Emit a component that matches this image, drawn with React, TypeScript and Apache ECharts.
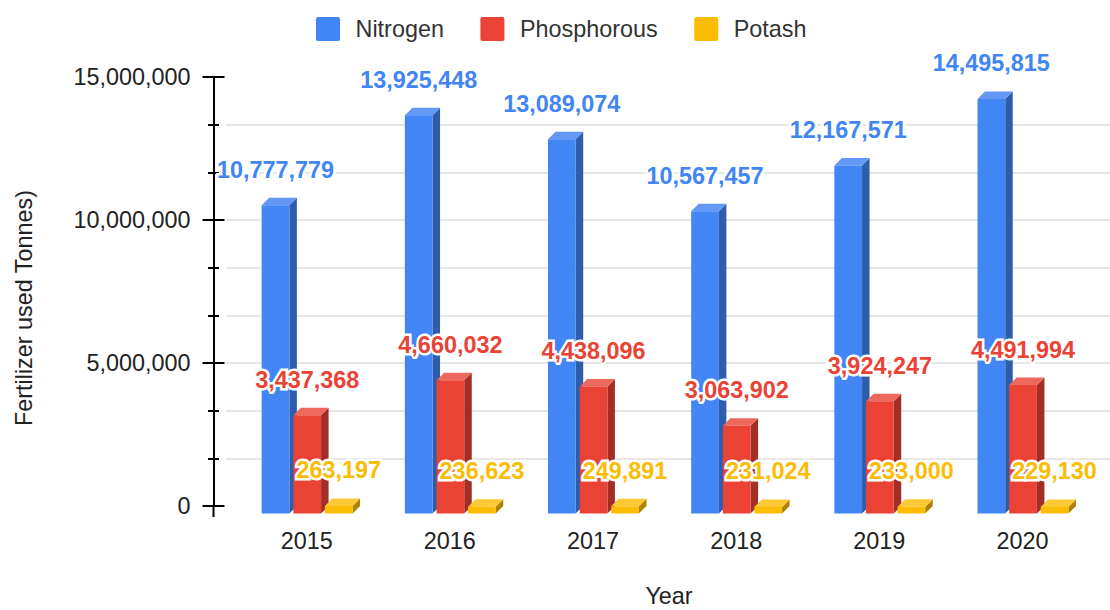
import React, { useEffect, useRef } from "react";
import * as echarts from "echarts";

const categories = ["2015", "2016", "2017", "2018", "2019", "2020"];
const nitrogen = [10777779, 13925448, 13089074, 10567457, 12167571, 14495815];
const phosphorous = [3437368, 4660032, 4438096, 3063902, 3924247, 4491994];
const potash = [263197, 236623, 249891, 231024, 233000, 229130];

const FONT = '"Liberation Sans", Arial, sans-serif';
const TEXT = "#222222";
const BAR_W = 27.7;
const DEPTH = 7.5;
const FS = 23.4;

function bar3d(name: string, values: number[], offset: number, front: string, side: string, top: string) {
  return {
    type: "custom",
    name,
    xAxisIndex: 0,
    yAxisIndex: 0,
    clip: false,
    silent: true,
    itemStyle: { color: front },
    encode: { x: 0, y: 1 },
    data: values.map((v, i) => [i, v]),
    renderItem: (_p: any, api: any) => {
      const i = api.value(0);
      const v = api.value(1);
      const [cx, backTop] = api.coord([i, v]);
      const base = api.coord([i, 0])[1];
      const l = cx + offset;
      const r = l + BAR_W;
      const t = backTop + DEPTH;
      const b = base + DEPTH;
      return {
        type: "group",
        children: [
          { type: "polygon", shape: { points: [[r, t], [r + DEPTH, backTop], [r + DEPTH, base], [r, b]] }, style: { fill: side } },
          { type: "polygon", shape: { points: [[l, t], [l + DEPTH, backTop], [r + DEPTH, backTop], [r, t]] }, style: { fill: top } },
          { type: "rect", shape: { x: l, y: t, width: BAR_W, height: b - t }, style: { fill: front } },
          {
            type: "text",
            z2: 100,
            style: {
              x: l + BAR_W / 2,
              y: t - 35.5,
              text: Number(v).toLocaleString("en-US"),
              align: "center",
              verticalAlign: "middle",
              font: `bold ${FS}px ${FONT}`,
              fill: front,
              stroke: "#ffffff",
              lineWidth: 5,
            },
          },
        ],
      };
    },
  };
}

export default function App() {
  const ref = useRef<HTMLDivElement>(null);
  useEffect(() => {
    document.body.style.margin = "0";
    const chart = echarts.init(ref.current!, undefined, { renderer: "svg" });
    const axisColor = { lineStyle: { color: "#000000", width: 2 } };
    chart.setOption({
      animation: false,
      backgroundColor: "#ffffff",
      textStyle: { fontFamily: FONT },
      legend: {
        left: 311,
        top: 12,
        icon: "path://M2 0H22Q24 0 24 2V22Q24 24 22 24H2Q0 24 0 22V2Q0 0 2 0Z",
        itemWidth: 24,
        itemHeight: 24,
        itemGap: 36.5,
        selectedMode: false,
        data: ["Nitrogen", "Phosphorous", "Potash"],
        textStyle: { fontFamily: FONT, fontSize: FS, color: "#333333", padding: [0, 0, 0, 10.5] },
      },
      grid: [
        { left: 235.1, right: 15.9, top: 77, bottom: 104, outerBoundsMode: "none" },
        { left: 226, right: 0, top: 77, bottom: 104, outerBoundsMode: "none" },
      ],
      xAxis: [
        {
          type: "category",
          gridIndex: 0,
          data: categories,
          axisLine: { show: false },
          axisTick: { show: false },
          axisLabel: { color: TEXT, fontFamily: FONT, fontSize: FS, margin: 23 },
        },
        { type: "category", gridIndex: 1, show: false, data: categories },
      ],
      yAxis: [
        {
          type: "value",
          gridIndex: 0,
          min: 0,
          max: 15000000,
          interval: 5000000,
          show: false,
        },
        {
          type: "value",
          gridIndex: 1,
          min: 0,
          max: 15000000,
          interval: 5000000,
          position: "left",
          offset: 12.5,
          axisLine: { show: true, ...axisColor },
          axisTick: { show: true, length: 11, ...axisColor },
          minorTick: { show: true, splitNumber: 3, length: 5.5, ...axisColor },
          splitLine: { show: true, showMinLine: false, showMaxLine: false, lineStyle: { color: "#e6e6e6", width: 2 } },
          minorSplitLine: { show: true, lineStyle: { color: "#e6e6e6", width: 2 } },
          axisLabel: {
            color: TEXT,
            fontFamily: FONT,
            fontSize: FS,
            margin: 23,
            formatter: (v: number) => v.toLocaleString("en-US"),
          },
        },
        {
          type: "value",
          gridIndex: 1,
          min: 0,
          max: 15000000,
          interval: 5000000,
          position: "left",
          offset: 12.5,
          axisLine: { show: false },
          axisTick: { show: true, inside: true, length: 11, ...axisColor },
          minorTick: { show: true, splitNumber: 3, length: 5.5, ...axisColor },
          splitLine: { show: false },
          axisLabel: { show: false },
        },
      ],
      graphic: [
        { type: "line", shape: { x1: 213.5, y1: 506, x2: 213.5, y2: 517 }, style: { stroke: "#000000", lineWidth: 2 } },
        {
          type: "text",
          x: 24,
          y: 308,
          rotation: Math.PI / 2,
          style: { text: "Fertilizer used Tonnes)", font: `${FS}px ${FONT}`, fill: TEXT, align: "center", verticalAlign: "middle" },
        },
        {
          type: "text",
          x: 669,
          y: 596,
          style: { text: "Year", font: `${FS}px ${FONT}`, fill: TEXT, align: "center", verticalAlign: "middle" },
        },
      ],
      series: [
        bar3d("Nitrogen", nitrogen, -45, "#4285F4", "#2E5DAB", "#6498F6"),
        bar3d("Phosphorous", phosphorous, -13.3, "#EA4335", "#A32E25", "#EE695D"),
        bar3d("Potash", potash, 18.2, "#FBBC04", "#AF8302", "#FCC934"),
      ],
    });
    return () => chart.dispose();
  }, []);
  return <div ref={ref} style={{ width: 1110, height: 610 }} />;
}
